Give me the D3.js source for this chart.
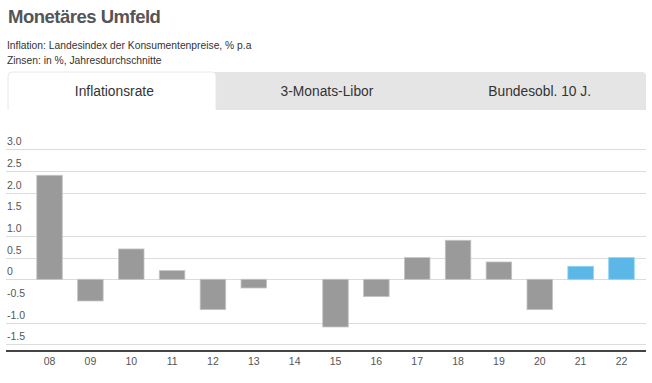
<!DOCTYPE html>
<html>
<head>
<meta charset="utf-8">
<script src="https://cdn.jsdelivr.net/npm/d3@7"></script>
<style>
  body { margin: 0; background: #fff; font-family: "Liberation Sans", Arial, sans-serif; }
</style>
</head>
<body>
<div id="chart"></div>
<script>
const years = ["08", "09", "10", "11", "12", "13", "14", "15", "16", "17", "18", "19", "20", "21", "22"];
const inflation = [2.4, -0.5, 0.7, 0.2, -0.7, -0.2, 0.0, -1.1, -0.4, 0.5, 0.9, 0.4, -0.7, 0.3, 0.5];
const isForecast = [false, false, false, false, false, false, false, false, false, false, false, false, false, true, true];
const yTicks = [3.0, 2.5, 2.0, 1.5, 1.0, 0.5, 0, -0.5, -1.0, -1.5];
const gridValues = [3.0, 2.5, 2.0, 1.0, 0.5, 0, -1.0, -1.5];
const tabs = ["Inflationsrate", "3-Monats-Libor", "Bundesobl. 10 J."];

const width = 652, height = 383;

const svg = d3.select("#chart")
    .append("svg")
    .attr("width", width)
    .attr("height", height);

// title + subtitles
svg.append("text")
    .attr("x", 8)
    .attr("y", 23)
    .style("font-size", "18.5px")
    .style("font-weight", "bold")
    .style("letter-spacing", "-0.5px")
    .attr("fill", "#555")
    .text("Monetäres Umfeld");

svg.append("text")
    .attr("x", 7)
    .attr("y", 49)
    .style("font-size", "10.3px")
    .attr("fill", "#333")
    .text("Inflation: Landesindex der Konsumentenpreise, % p.a");

svg.append("text")
    .attr("x", 7)
    .attr("y", 64)
    .style("font-size", "10.3px")
    .attr("fill", "#333")
    .text("Zinsen: in %, Jahresdurchschnitte");

// tab bar
const tabX = 8, tabY = 72, tabW = 638, tabH = 38;
const tabScale = d3.scaleBand().domain(tabs).range([tabX, tabX + tabW]);

svg.append("path")
    .attr("d", `M${tabX},${tabY + tabH} V${tabY + 4} Q${tabX},${tabY} ${tabX + 4},${tabY} H${tabX + tabW - 4} Q${tabX + tabW},${tabY} ${tabX + tabW},${tabY + 4} V${tabY + tabH} Z`)
    .attr("fill", "#e5e5e5");

svg.append("path")
    .attr("d", `M${tabX},${tabY + tabH} V${tabY + 4} Q${tabX},${tabY} ${tabX + 4},${tabY} H${tabX + 204} Q${tabX + 208},${tabY} ${tabX + 208},${tabY + 4} V${tabY + tabH}`)
    .attr("fill", "#fff")
    .attr("stroke", "#e8e8e8")
    .attr("stroke-width", 1);

svg.selectAll(".tab")
    .data(tabs)
    .enter()
    .append("text")
    .attr("x", d => tabScale(d) + tabScale.bandwidth() / 2)
    .attr("y", tabY + 24)
    .attr("text-anchor", "middle")
    .style("font-size", "13.8px")
    .attr("fill", "#333")
    .text(d => d);

// scales
const xScale = d3.scaleBand()
    .domain(years)
    .range([29, 642])
    .paddingInner(0.375)
    .paddingOuter(0.19);

const yScale = d3.scaleLinear()
    .domain([-1.5, 3])
    .range([344.3, 149.3]);

// gridlines
svg.selectAll(".grid")
    .data(gridValues)
    .enter()
    .append("line")
    .attr("x1", 6)
    .attr("x2", 646)
    .attr("y1", d => Math.round(yScale(d)) + 0.5)
    .attr("y2", d => Math.round(yScale(d)) + 0.5)
    .attr("stroke", "#dcdcdc")
    .attr("stroke-width", 1);

// y labels sit above their gridline
svg.selectAll(".ylab")
    .data(yTicks)
    .enter()
    .append("text")
    .attr("x", 7)
    .attr("y", d => yScale(d) - 4)
    .style("font-size", "10.5px")
    .attr("fill", "#555")
    .text(d => d === 0 ? "0" : d.toFixed(1));

// bars
svg.selectAll(".bar")
    .data(years)
    .enter()
    .append("rect")
    .attr("x", d => xScale(d))
    .attr("width", xScale.bandwidth())
    .attr("y", (d, i) => yScale(Math.max(0, inflation[i])))
    .attr("height", (d, i) => Math.abs(yScale(inflation[i]) - yScale(0)))
    .attr("fill", (d, i) => isForecast[i] ? "#5bb8e6" : "#9a9a9a")
    .attr("stroke", (d, i) => isForecast[i] ? "#8fd0f0" : "#c4c4c4")
    .attr("stroke-width", 0.8);

// x axis
const xAxis = svg.append("g")
    .attr("transform", "translate(0,350)")
    .call(d3.axisBottom(xScale).tickSize(0).tickPadding(8));
xAxis.select(".domain").remove();
xAxis.selectAll("text")
    .style("font-size", "10.5px")
    .style("font-family", "Liberation Sans, Arial, sans-serif")
    .attr("fill", "#555");

svg.append("line")
    .attr("x1", 6)
    .attr("x2", 646)
    .attr("y1", 351)
    .attr("y2", 351)
    .attr("stroke", "#444")
    .attr("stroke-width", 2);
</script>
</body>
</html>
